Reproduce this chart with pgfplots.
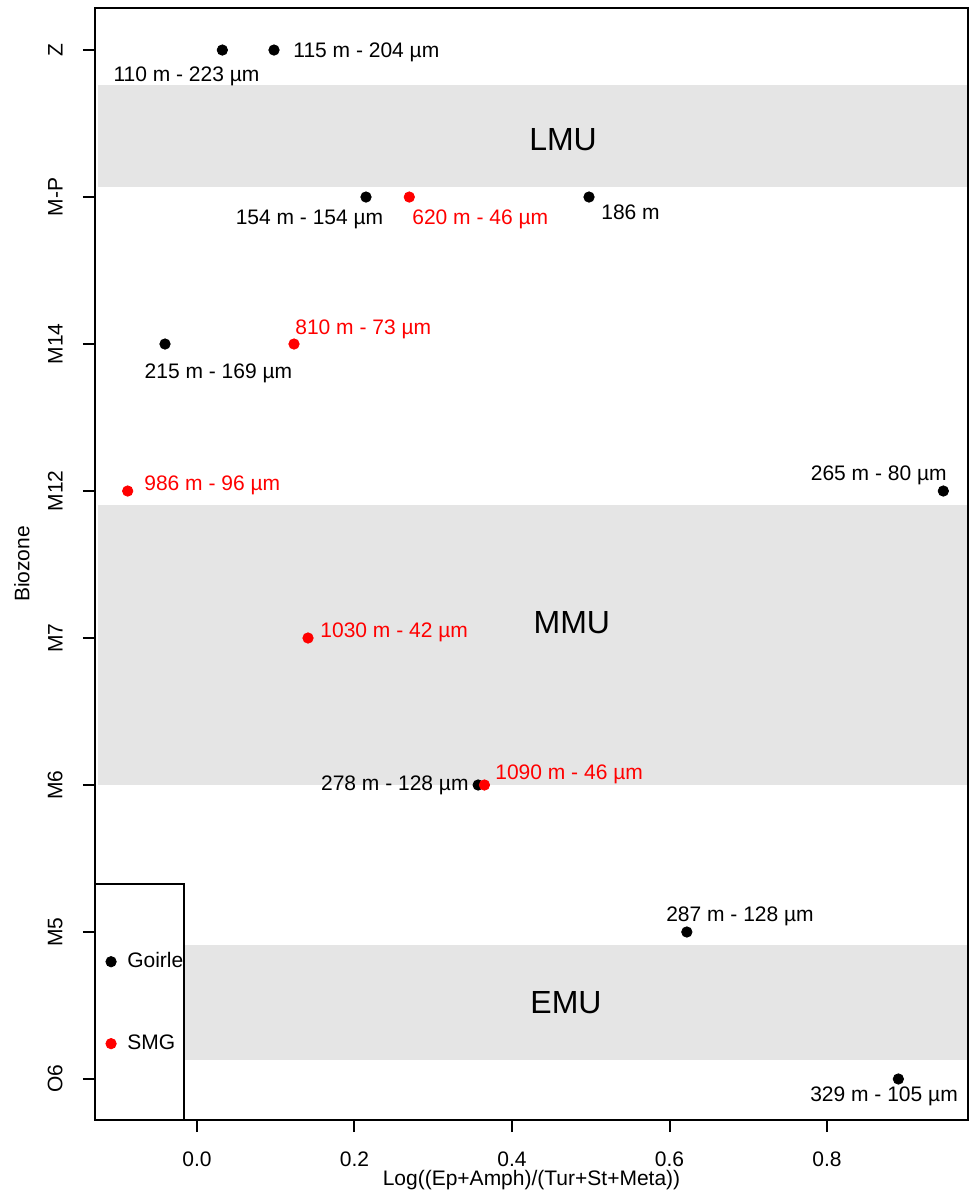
\documentclass[border=0pt]{standalone}
\usepackage{fontspec}
\setmainfont{Liberation Sans}
\usepackage{pgfplots}
\pgfplotsset{compat=1.18}
\definecolor{band}{RGB}{229,229,229}
\newcommand{\lf}{\fontsize{10.5}{12}\selectfont}
\begin{document}
\begin{tikzpicture}
\path[use as bounding box] (-47.5pt,-40pt) rectangle (439pt,560pt);
\begin{axis}[
  at={(0pt,0pt)}, anchor=south west,
  scale only axis, width=436.5pt, height=556pt,
  xmin=-0.1295, xmax=0.979, ymin=0.721, ymax=8.286,
  axis on top,
  axis line style={line width=1pt},
  tick style={line width=1pt, black},
  tick align=outside, major tick length=6pt,
  xtick={0,0.2,0.4,0.6,0.8},
  ytick={1,2,3,4,5,6,7,8},
  yticklabels={O6,M5,M6,M7,M12,M14,M-P,Z},
  xtick pos=left, ytick pos=left,
  minor tick num=0,
  /pgf/number format/assume math mode=true,
  xticklabel style={/pgf/number format/fixed, /pgf/number format/fixed zerofill, /pgf/number format/precision=1, anchor=north, inner sep=0pt, font=\lf},
  yticklabel style={rotate=90, anchor=south, inner sep=0pt, font=\lf},
  xticklabel shift=9.5pt,
  yticklabel shift=10pt,
  xlabel={Log((Ep+Amph)/(Tur+St+Meta))},
  ylabel={Biozone},
  xlabel style={at={(axis description cs:0.5,-0.045)}, anchor=north, inner sep=0pt, font=\lf},
  ylabel style={at={(axis description cs:-0.0745,0.5)}, anchor=south, inner sep=0pt, font=\lf},
  legend style={at={(axis cs:-0.1162,1.52)}, anchor=west, draw=none, fill=none, inner sep=0pt, row sep=32pt, column sep=5.5pt, font=\lf, nodes={inner sep=0pt}},
  legend cell align=left,
  legend image code/.code={\draw[#1] plot coordinates {(0pt,0pt)};},
]
% shaded biozone bands
\fill[band] (axis cs:-0.1257,7.068) rectangle (axis cs:0.979,7.762);
\fill[band] (axis cs:-0.1257,3.0) rectangle (axis cs:0.979,4.905);
\fill[band] (axis cs:-0.1257,1.129) rectangle (axis cs:0.979,1.912);
% legend frame
\draw[fill=white, line width=0.75pt] (axis cs:-0.1295,0.721) rectangle (axis cs:-0.0165,2.327);

\node[font=\fontsize{16}{19}\selectfont] at (axis cs:0.4648,7.388) {LMU};
\node[font=\fontsize{16}{19}\selectfont] at (axis cs:0.476,4.102) {MMU};
\node[font=\fontsize{16}{19}\selectfont] at (axis cs:0.4686,1.517) {EMU};

\addplot[only marks, mark=*, mark size=2.6pt, black, mark options={fill=black, draw=black}] coordinates {
(0.0322,8) (0.0978,8) (0.2146,7) (0.4978,7) (-0.0406,6) (0.9477,5) (0.357,3) (0.622,2) (0.8906,1)
};
\addlegendentry{Goirle}
\addplot[only marks, mark=*, mark size=2.6pt, red, mark options={fill=red, draw=red}] coordinates {
(0.2696,7) (0.1232,6) (-0.088,5) (0.141,4) (0.365,3)
};
\addlegendentry{SMG}

\begin{scope}[every node/.style={font=\lf, inner sep=0pt}]
\node[anchor=base] at (axis cs:-0.0133,7.787) {110 m - 223 µm};
\node[anchor=base west] at (axis cs:0.1219,7.950) {115 m - 204 µm};
\node[anchor=base] at (axis cs:0.1429,6.814) {154 m - 154 µm};
\node[anchor=base west, text=red] at (axis cs:0.273,6.814) {620 m - 46 µm};
\node[anchor=base west] at (axis cs:0.513,6.849) {186 m};
\node[anchor=base] at (axis cs:0.0273,5.767) {215 m - 169 µm};
\node[anchor=base west, text=red] at (axis cs:0.1244,6.066) {810 m - 73 µm};
\node[anchor=base west, text=red] at (axis cs:-0.0673,5.005) {986 m - 96 µm};
\node[anchor=base east] at (axis cs:0.9524,5.073) {265 m - 80 µm};
\node[anchor=base west, text=red] at (axis cs:0.1562,4.005) {1030 m - 42 µm};
\node[anchor=base east] at (axis cs:0.3454,2.964) {278 m - 128 µm};
\node[anchor=base west, text=red] at (axis cs:0.3784,3.039) {1090 m - 46 µm};
\node[anchor=base] at (axis cs:0.6895,2.073) {287 m - 128 µm};
\node[anchor=base] at (axis cs:0.8724,0.848) {329 m - 105 µm};
\end{scope}
\end{axis}
\end{tikzpicture}
\end{document}
